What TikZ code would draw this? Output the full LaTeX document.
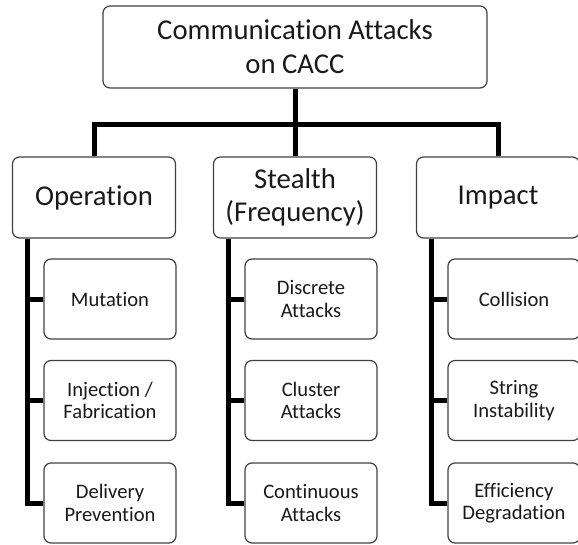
\documentclass[tikz,border=0pt]{standalone}
\usepackage{fontspec}
\setmainfont{Carlito}[Ligatures={NoCommon}]
\usetikzlibrary{calc}

\begin{document}
\begin{tikzpicture}[x=1pt, y=-1pt,
  box/.style={draw=black!75, line width=1.2pt, rounded corners=7pt, align=center, inner sep=0pt, text=black!90},
  topbox/.style={box, minimum width=384pt, minimum height=82pt, font=\fontsize{28.7}{34}\selectfont},
  catbox/.style={box, minimum width=163pt, minimum height=81pt, font=\fontsize{28.7}{32.7}\selectfont},
  subbox/.style={box, minimum width=132pt, minimum height=80pt, font=\fontsize{20.6}{22.3}\selectfont},
  link/.style={line width=5pt, black}]

\useasboundingbox (0,0) rectangle (578,545);

% root
\node[topbox] (top) at (295,47) {Communication Attacks\\on CACC};

% categories
\node[catbox] (op)  at (94,197.5)  {Operation};
\node[catbox] (stl) at (295,197.5) {Stealth\\(Frequency)};
\node[catbox] (imp) at (498,197.5) {Impact};

% operation
\node[subbox] (op1) at (110,299)   {Mutation};
\node[subbox] (op2) at (110,400.5) {Injection /\\Fabrication};
\node[subbox] (op3) at (110,503)   {Delivery\\Prevention};

% stealth
\node[subbox] (stl1) at (311,299)   {Discrete\\Attacks};
\node[subbox] (stl2) at (311,400.5) {Cluster\\Attacks};
\node[subbox] (stl3) at (311,503)   {Continuous\\Attacks};

% impact
\node[subbox] (imp1) at (514,299)   {Collision};
\node[subbox] (imp2) at (514,400.5) {String\\Instability};
\node[subbox] (imp3) at (514,503)   {Efficiency\\Degradation};

% tree links
\draw[link] (top.south) -- (stl.north);
\draw[link] (op.north) -- ++(0,-32) -| (imp.north);

\draw[link] ([xshift=16pt]op.south west) |- (op3.west);
\draw[link] (op1.west) -- ++(-16,0);
\draw[link] (op2.west) -- ++(-16,0);

\draw[link] ([xshift=16pt]stl.south west) |- (stl3.west);
\draw[link] (stl1.west) -- ++(-16,0);
\draw[link] (stl2.west) -- ++(-16,0);

\draw[link] ([xshift=16pt]imp.south west) |- (imp3.west);
\draw[link] (imp1.west) -- ++(-16,0);
\draw[link] (imp2.west) -- ++(-16,0);

\end{tikzpicture}
\end{document}
